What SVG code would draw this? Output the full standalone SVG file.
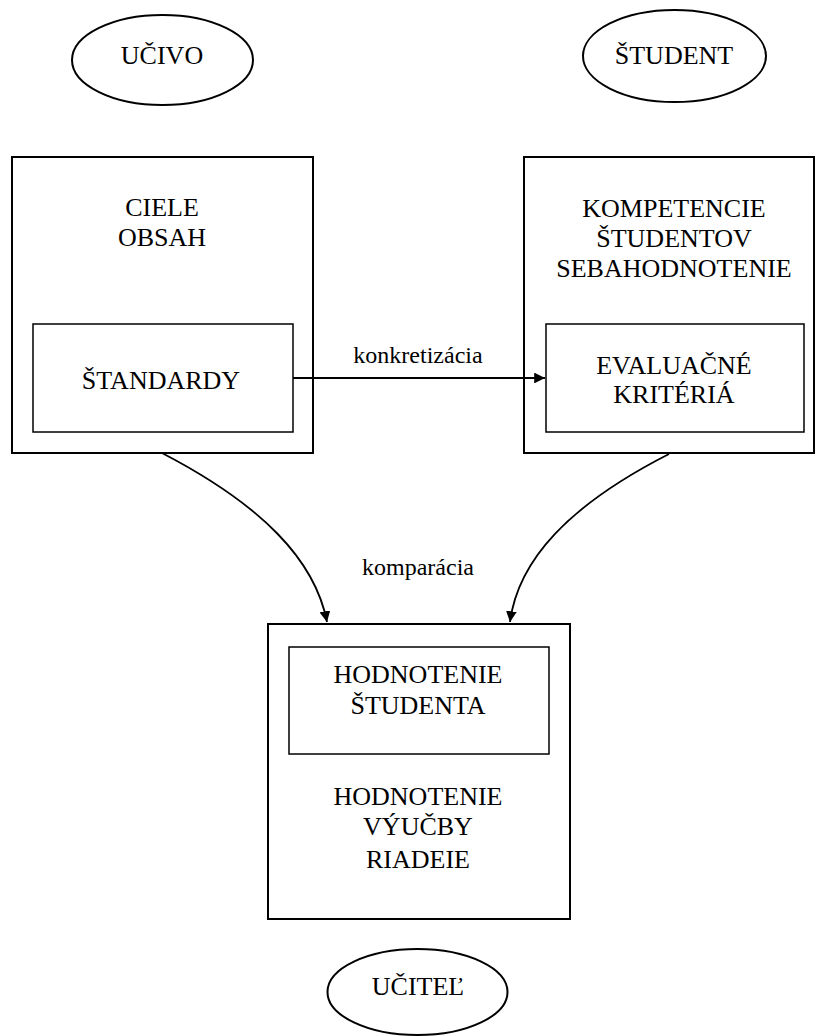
<svg xmlns="http://www.w3.org/2000/svg" width="815" height="1036" viewBox="0 0 815 1036">
<style>
text{font-family:"Liberation Serif","Times New Roman","DejaVu Serif",serif;fill:#000;text-anchor:middle}
.cap{font-size:26px}
.lbl{font-size:24px}
.outer{fill:none;stroke:#000;stroke-width:2}
.inner{fill:none;stroke:#000;stroke-width:1.5}
.ell{fill:none;stroke:#000;stroke-width:2}
.conn{fill:none;stroke:#000;stroke-width:1.8}
</style>
<defs>
<marker id="ah" viewBox="0 0 10 10" refX="10" refY="5" markerWidth="6" markerHeight="6" markerUnits="strokeWidth" orient="auto">
<path d="M0,0 L10,5 L0,10 Z" fill="#000"/>
</marker>
</defs>
<rect width="815" height="1036" fill="#fff"/>
<g font-family="Liberation Serif, Times New Roman, serif">
<g id="ucivo">
<ellipse class="ell" cx="162.5" cy="60" rx="90.5" ry="45"/>
<text class="cap" x="162" y="64">UČIVO</text>
</g>
<g id="student">
<ellipse class="ell" cx="674.5" cy="56" rx="91.5" ry="46"/>
<text class="cap" x="674" y="64">ŠTUDENT</text>
</g>
<g id="ciele">
<rect class="outer" x="12" y="157" width="301" height="296"/>
<text class="cap" x="162" y="216">CIELE</text>
<text class="cap" x="162" y="246">OBSAH</text>
</g>
<g id="standardy">
<rect class="inner" x="33" y="324" width="260" height="108"/>
<text class="cap" x="161" y="389">ŠTANDARDY</text>
</g>
<g id="kompetencie">
<rect class="outer" x="524" y="157" width="290" height="296"/>
<text class="cap" x="674" y="217">KOMPETENCIE</text>
<text class="cap" x="674" y="247">ŠTUDENTOV</text>
<text class="cap" x="674" y="277">SEBAHODNOTENIE</text>
</g>
<g id="evaluacne">
<rect class="inner" x="546" y="324" width="258" height="108"/>
<text class="cap" x="674" y="374">EVALUAČNÉ</text>
<text class="cap" x="674" y="403">KRITÉRIÁ</text>
</g>
<g id="hodnotenie">
<rect class="outer" x="268" y="624" width="302" height="295"/>
<text class="cap" x="418" y="805">HODNOTENIE</text>
<text class="cap" x="418" y="835">VÝUČBY</text>
<text class="cap" x="418" y="868">RIADEIE</text>
</g>
<g id="hodnotenie-studenta">
<rect class="inner" x="289" y="647" width="260" height="107"/>
<text class="cap" x="418" y="683">HODNOTENIE</text>
<text class="cap" x="418" y="714">ŠTUDENTA</text>
</g>
<g id="ucitel">
<ellipse class="ell" cx="417.5" cy="992" rx="90" ry="43"/>
<text class="cap" x="418" y="995">UČITEĽ</text>
</g>
<g id="connectors">
<path class="conn" d="M293,378 L545,378" marker-end="url(#ah)"/>
<text class="lbl" x="418" y="363">konkretizácia</text>
<path class="conn" d="M162,453 C262,505 315,560 327,622" marker-end="url(#ah)"/>
<path class="conn" d="M669,454 C569,505 518,560 510,622" marker-end="url(#ah)"/>
<text class="lbl" x="418" y="575">komparácia</text>
</g>
</g>
</svg>
